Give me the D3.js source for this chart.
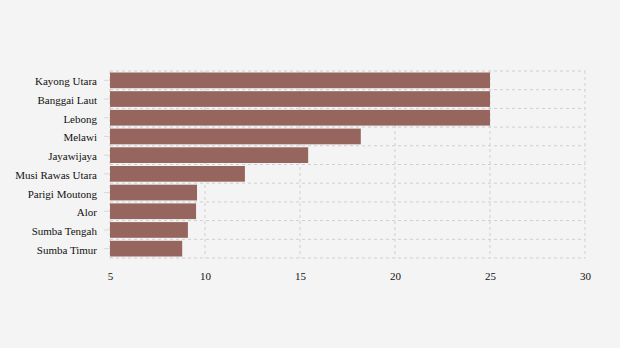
<!DOCTYPE html>
<html>
<head>
<meta charset="utf-8">
<script src="https://cdn.jsdelivr.net/npm/d3@7/dist/d3.min.js"></script>
<style>
  html, body { margin: 0; padding: 0; background: #f4f4f4; }
  svg { display: block; }
</style>
</head>
<body>
<svg id="chart" width="620" height="348"></svg>
<script>
// Regions and their values
const regions = ["Kayong Utara", "Banggai Laut", "Lebong", "Melawi", "Jayawijaya",
  "Musi Rawas Utara", "Parigi Moutong", "Alor", "Sumba Tengah", "Sumba Timur"];
const values = [25, 25, 25, 18.2, 15.43, 12.1, 9.58, 9.53, 9.1, 8.8];
const xTicks = [5, 10, 15, 20, 25, 30];
const xDomain = [5, 30];

const FONT = "Liberation Serif";

const svg = d3.select("#chart");
const margin = { top: 71, right: 35, bottom: 90, left: 110 };
const width = 620 - margin.left - margin.right;
const height = 348 - margin.top - margin.bottom;

const g = svg.append("g").attr("transform", `translate(${margin.left},${margin.top})`);

const x = d3.scaleLinear().domain(xDomain).range([0, width]);
const y = d3.scaleBand().domain(regions).range([0, height]).paddingInner(0.16).paddingOuter(0.08);

// Grid: vertical lines at x ticks, horizontal lines at band boundaries
const bandEdges = d3.range(regions.length + 1).map(i => (height / regions.length) * i);

g.append("g").selectAll("line").data(xTicks).join("line")
  .attr("x1", d => x(d)).attr("x2", d => x(d))
  .attr("y1", 0).attr("y2", height)
  .attr("stroke", "#cfcfcf").attr("stroke-width", 1).attr("stroke-dasharray", "3,3");

g.append("g").selectAll("line").data(bandEdges).join("line")
  .attr("x1", 0).attr("x2", width)
  .attr("y1", d => d).attr("y2", d => d)
  .attr("stroke", "#cfcfcf").attr("stroke-width", 1).attr("stroke-dasharray", "3,3");

// Bars
g.append("g").selectAll("rect").data(regions).join("rect")
  .attr("x", x(xDomain[0]))
  .attr("y", d => y(d))
  .attr("width", (d, i) => x(values[i]) - x(xDomain[0]))
  .attr("height", y.bandwidth())
  .attr("fill", "#96665e");

// Y axis
const yAxis = g.append("g")
  .call(d3.axisLeft(y).tickSize(6).tickPadding(7))
  .attr("font-family", FONT)
  .attr("font-size", 11);
yAxis.select(".domain").remove();
yAxis.selectAll(".tick line").attr("stroke", "#d8d8d8");
yAxis.selectAll(".tick text").attr("fill", "#111").attr("dy", "0.45em");

// X axis
const xAxis = g.append("g")
  .attr("transform", `translate(0,${height})`)
  .call(d3.axisBottom(x).tickValues(xTicks).tickSize(0).tickPadding(14))
  .attr("font-family", FONT)
  .attr("font-size", 11);
xAxis.select(".domain").remove();
xAxis.selectAll(".tick text").attr("fill", "#111");
</script>
</body>
</html>
